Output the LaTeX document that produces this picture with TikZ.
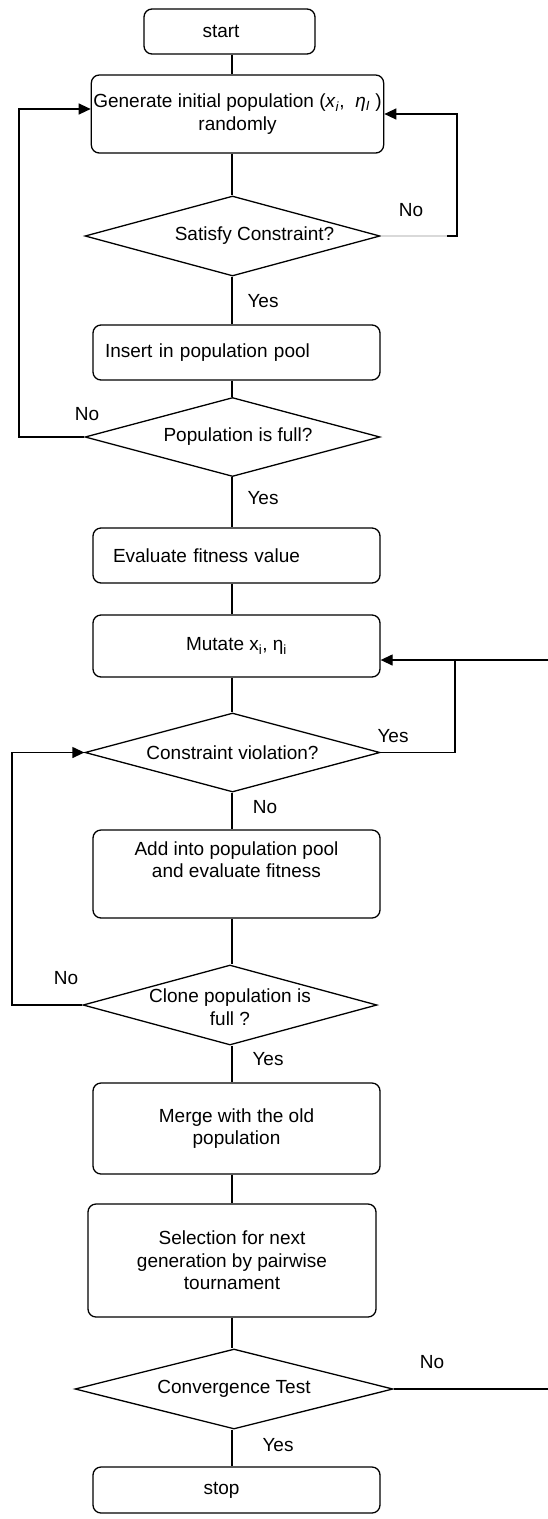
\documentclass[tikz,border=0pt]{standalone}
\usepackage{fontspec}
\setmainfont{Liberation Sans}
\usetikzlibrary{shapes.geometric,arrows.meta}
\begin{document}
\begin{tikzpicture}[x=1pt,y=-1pt,
  every node/.style={font=\fontsize{19}{22.5}\selectfont},
  box/.style={draw,rounded corners=8pt,line width=1.3pt,minimum width=287pt,inner sep=2pt,align=center},
  dec/.style={draw,diamond,line width=1.3pt,inner sep=0pt,align=center,aspect=3.6},
  line/.style={line width=1.3pt},
  arr/.style={line width=1.3pt,-{Triangle[length=12pt,width=11pt]}},
  lab/.style={inner sep=0pt}]
\useasboundingbox (0,0) rectangle (548,1519);

% process nodes
\node[box,minimum width=171pt,minimum height=45pt] (start) at (229.5,31.5) {start\hspace*{17pt}};
\node[box,minimum width=289pt,minimum height=78pt] (gen) at (237.5,114)
  {Generate initial population (\textit{x}\textsubscript{\textit{i}}, \ \textit{η}\textsubscript{\textit{I}} )\\randomly};
\node[dec,minimum width=295pt,minimum height=80pt] (sat) at (232.5,236) {\hspace*{44pt}Satisfy Constraint?};
\node[box,minimum height=55pt,text width=263pt,inner xsep=12pt,align=left] (ins) at (236.5,352.5) {Insert in population pool};
\node[dec,minimum width=295pt,minimum height=79pt] (pop) at (232.5,437) {\hspace*{11pt}Population is full?};
\node[box,minimum height=55pt,text width=247pt,inner xsep=20pt,align=left] (eva) at (236.5,555.5) {Evaluate fitness value};
\node[box,minimum height=62pt] (mut) at (236.5,646) {Mutate x\textsubscript{i}, η\textsubscript{i}};
\node[dec,minimum width=295pt,minimum height=79pt] (cv) at (232.5,752.5) {Constraint violation?};
\node[box,minimum height=88pt] (add) at (236.5,874) {Add into population pool\\and evaluate fitness\\\strut};
\node[dec,minimum width=294pt,minimum height=80pt,text height=40pt,text depth=-27pt,inner sep=-5pt] (clone) at (230,1005) {Clone population is\\full ?};
\node[box,minimum height=91pt] (merge) at (236.5,1128.5) {Merge with the old\\population};
\node[box,minimum width=288pt,minimum height=113pt] (sel) at (232,1260.5) {Selection for next\\generation by pairwise\\tournament};
\node[dec,minimum width=318pt,minimum height=80pt] (conv) at (234,1389) {Convergence Test};
\node[box,minimum height=46pt] (stop) at (236.5,1490) {stop\hspace*{30pt}};

% helper coordinates
\coordinate (ax) at (232,0);
\coordinate (g1) at (447,0);
\coordinate (r1) at (457,0);
\coordinate (r2) at (455,0);
\coordinate (r3) at (551,0);
\coordinate (l1) at (19,0);
\coordinate (l2) at (12,0);
\coordinate (genin) at ([yshift=5pt]gen.west);
\coordinate (mutin) at ([yshift=-14pt]mut.east);

% main flow
\draw[line] (start.south -| ax) -- (gen.north -| ax);
\draw[line] (gen.south -| ax) -- (sat.north -| ax);
\draw[line] (sat.south -| ax) -- (ins.north -| ax);
\draw[line] (ins.south -| ax) -- (pop.north -| ax);
\draw[line] (pop.south -| ax) -- (eva.north -| ax);
\draw[line] (eva.south -| ax) -- (mut.north -| ax);
\draw[line] (mut.south -| ax) -- (cv.north -| ax);
\draw[line] (cv.south -| ax) -- (add.north -| ax);
\draw[line] (add.south -| ax) -- (clone.north -| ax);
\draw[line] (clone.south -| ax) -- (merge.north -| ax);
\draw[line] (merge.south -| ax) -- (sel.north -| ax);
\draw[line] (sel.south -| ax) -- (conv.north -| ax);
\draw[line] (conv.south -| ax) -- (stop.north -| ax);

% loops
\draw[line,gray!30] (sat.east) -- (sat.east -| g1);
\draw[arr] (sat.east -| g1) -| (r1 |- gen.east) -- (gen.east);
\draw[arr] (pop.west) -| (l1 |- genin) -- (genin);
\draw[line] (cv.east) -| (r2 |- mutin);
\draw[arr] (conv.east) -| (r3 |- mutin) -- (mutin);
\draw[arr] (clone.west) -| (l2 |- cv.west) -- (cv.west);

% labels
\node[lab] (n1) at (411,210) {No};
\node[lab] (y1) at (263,301) {Yes};
\node[lab] (n2) at (87,414) {No};
\node[lab] (y2) at (263,498) {Yes};
\node[lab] (y3) at (393,736) {Yes};
\node[lab] (n3) at (265,807) {No};
\node[lab] (n4) at (66,978) {No};
\node[lab] (y4) at (268,1059) {Yes};
\node[lab] (n5) at (432,1362) {No};
\node[lab] (y5) at (278,1445) {Yes};
\end{tikzpicture}
\end{document}
